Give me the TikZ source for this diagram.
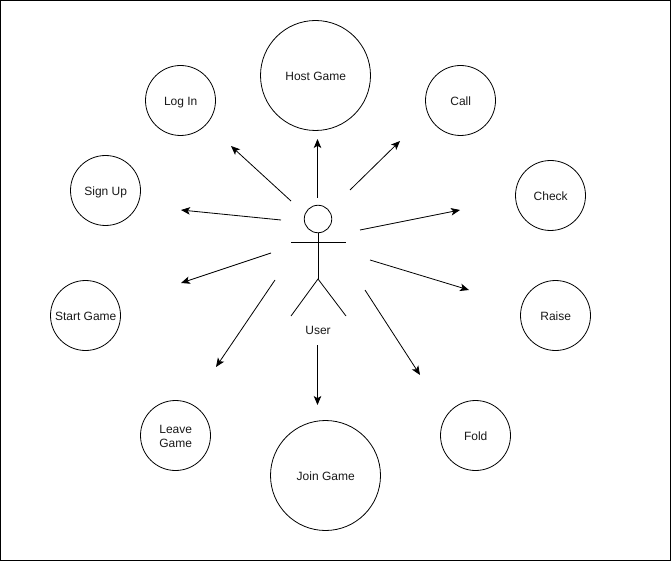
\documentclass[tikz,border=0pt]{standalone}
\usepackage{fontspec}
\setmainfont{Liberation Sans}
\usetikzlibrary{arrows.meta}
\newcommand{\tl}[1]{\raisebox{-5pt}[0pt][0pt]{\hspace{0.4pt}\begin{tabular}{@{}c@{}}#1\end{tabular}}}
\tikzset{
  usecase/.style={draw=black,line width=0.8pt,circle,inner sep=0pt,minimum size=70pt,align=center,font=\fontsize{12}{14.5}\selectfont,text=black!90},
  bigcase/.style={usecase,minimum size=110pt},
  link/.style={draw=black,line width=0.8pt,-{Stealth[length=9pt,width=7.5pt,inset=2.2pt]}},
  actorline/.style={draw=black,line width=0.8pt},
  frame/.style={draw=black,line width=1.6pt}
}
\begin{document}
\begin{tikzpicture}[x=1pt,y=-1pt]
\useasboundingbox (0,0) rectangle (671,561);
\draw[frame] (0.5,0.5) rectangle (670.5,560.5);
\node[bigcase] (host) at (315.5,75.5) {\tl{Host Game}};
\node[usecase] (login) at (180.5,100.5) {\tl{Log In}};
\node[usecase] (call) at (460.5,100.5) {\tl{Call}};
\node[usecase] (signup) at (105.5,190.5) {\tl{Sign Up}};
\node[usecase] (check) at (550.5,195.5) {\tl{Check}};
\node[usecase] (start) at (85.5,315.5) {\tl{Start Game}};
\node[usecase] (raise) at (555.5,315.5) {\tl{Raise}};
\node[usecase] (leave) at (175.5,435.5) {\tl{Leave\\Game}};
\node[usecase] (fold) at (475.5,435.5) {\tl{Fold}};
\node[bigcase] (join) at (325.5,475.5) {\tl{Join Game}};
% actor
\node[draw=black,line width=0.8pt,circle,inner sep=0pt,minimum size=27.5pt] (head) at (318,219) {};
\coordinate (armL) at (291,242);
\coordinate (armR) at (346,242);
\coordinate (hip) at (318,279);
\coordinate (footL) at (291,316);
\coordinate (footR) at (346,316);
\draw[actorline] (head.south) -- (hip);
\draw[actorline] (armL) -- (armR);
\draw[actorline] (footL) -- (hip) -- (footR);
\node[font=\fontsize{12}{14.5}\selectfont,text=black!90,inner sep=0pt] (user) at (318,330) {User};
% arrow ends
\coordinate (a1s) at (317.5,198); \coordinate (a1e) at (317.5,139);
\coordinate (a2s) at (291,201); \coordinate (a2e) at (231,146);
\coordinate (a3s) at (350,190); \coordinate (a3e) at (400,141);
\coordinate (a4s) at (281,220); \coordinate (a4e) at (181,210);
\coordinate (a5s) at (360,230); \coordinate (a5e) at (460,210);
\coordinate (a6s) at (271,253); \coordinate (a6e) at (181,283);
\coordinate (a7s) at (370,260); \coordinate (a7e) at (469,290);
\coordinate (a8s) at (275,280); \coordinate (a8e) at (216,367);
\coordinate (a9s) at (365,290); \coordinate (a9e) at (420,375);
\coordinate (a10s) at (317.5,345); \coordinate (a10e) at (317.5,405);
\foreach \i in {1,...,10} {\draw[link] (a\i s) -- (a\i e);}
\end{tikzpicture}
\end{document}
